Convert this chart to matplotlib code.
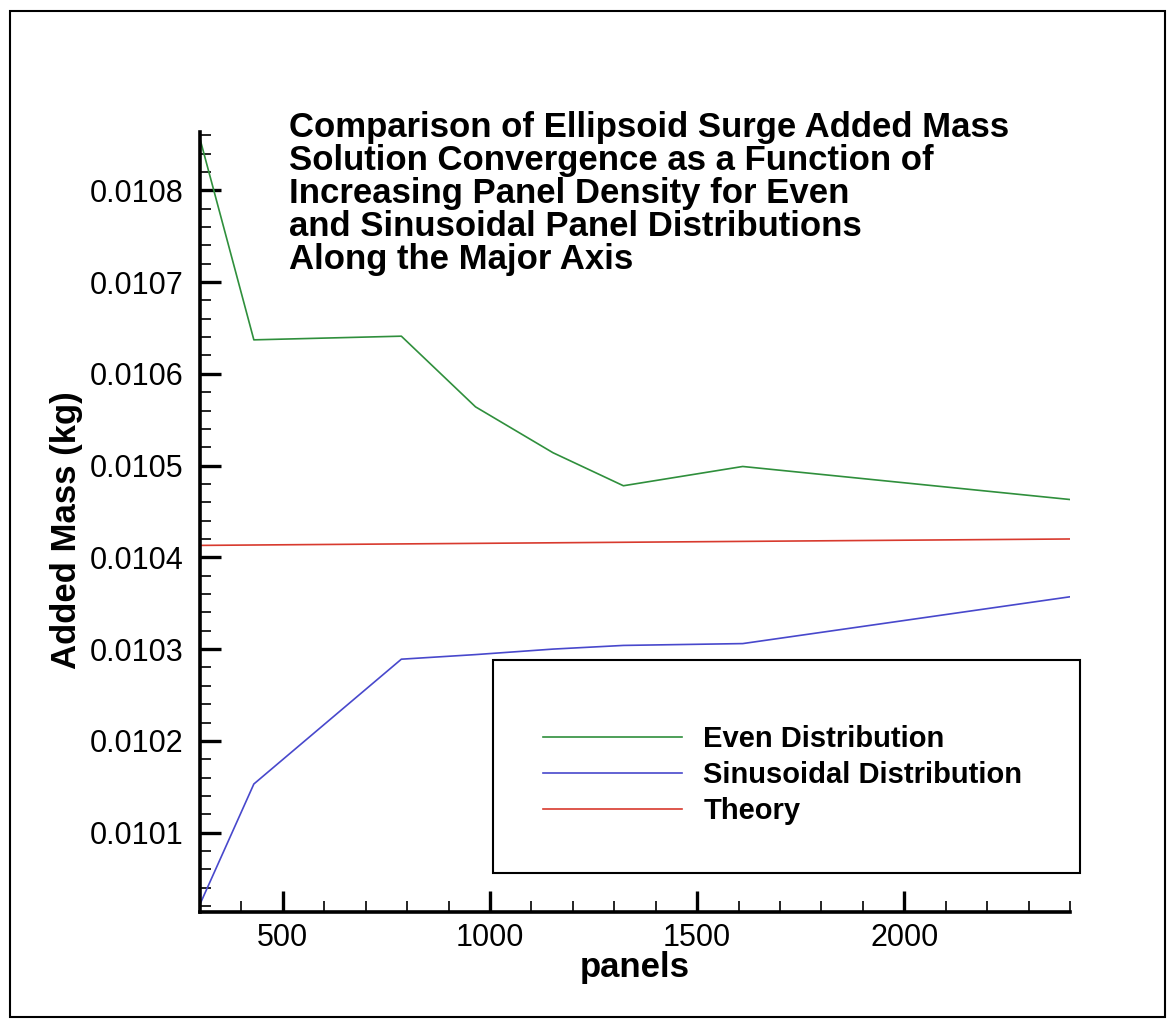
import matplotlib.pyplot as plt
from matplotlib.ticker import MultipleLocator, FormatStrFormatter
from matplotlib.patches import Rectangle

plt.rcParams['font.family'] = ['Liberation Sans', 'DejaVu Sans']

# --- Data ---
panels = [300, 430, 786, 965, 1152, 1322, 1610, 2400]
even = [0.010856, 0.010637, 0.010641, 0.010564, 0.010514, 0.010478, 0.010499, 0.010463]
sinusoidal = [0.010022, 0.010153, 0.010289, 0.010294, 0.010300, 0.010304, 0.010306, 0.010357]
theory_panels = [300, 2400]
theory = [0.010413, 0.010420]

labels = ['Even Distribution', 'Sinusoidal Distribution', 'Theory']
title_lines = ['Comparison of Ellipsoid Surge Added Mass',
               'Solution Convergence as a Function of',
               'Increasing Panel Density for Even',
               'and Sinusoidal Panel Distributions',
               'Along the Major Axis']

W, H = 1173, 1023
fig = plt.figure(figsize=(W / 100, H / 100), dpi=100)

# Outer frame round the whole picture
fig.patches.append(Rectangle((10 / W, 6 / H), 1155 / W, 1006 / H, transform=fig.transFigure,
                             fill=False, edgecolor='black', linewidth=1.5))

# Axes box in pixels: left 200, right 1070, top 132, bottom 912
ax = fig.add_axes([200 / W, 1 - 912 / H, 870 / W, 780 / H])

ax.plot(panels, even, '-', color='#2f8f3c', linewidth=1.2, label=labels[0])
ax.plot(panels, sinusoidal, '-', color='#4848cc', linewidth=1.2, label=labels[1])
ax.plot(theory_panels, theory, '-', color='#d83a2e', linewidth=1.2, label=labels[2])

ax.set_xlim(300, 2400)
ax.set_ylim(0.0100135, 0.0108635)

# Axis Stuff
for s in ['top', 'right']:
    ax.spines[s].set_visible(False)
for s in ['left', 'bottom']:
    ax.spines[s].set_linewidth(2.6)

ax.xaxis.set_major_locator(MultipleLocator(500))
ax.xaxis.set_minor_locator(MultipleLocator(100))
ax.yaxis.set_major_locator(MultipleLocator(0.0001))
ax.yaxis.set_minor_locator(MultipleLocator(0.00002))
ax.yaxis.set_major_formatter(FormatStrFormatter('%.4f'))

ax.tick_params(axis='both', which='major', direction='in', length=15, width=2.4, labelsize=22)
ax.tick_params(axis='both', which='minor', direction='in', length=8, width=1.2)
ax.tick_params(axis='y', which='major', pad=12)
ax.tick_params(axis='x', which='major', pad=8)

ax.set_xlabel('panels', fontsize=25, fontweight='bold')
ax.set_ylabel('Added Mass (kg)', fontsize=25, fontweight='bold')
ax.xaxis.set_label_coords(0.5, -0.05)
ax.yaxis.set_label_coords(-0.135, 0.49)

# Title block inside the plot
fig.text(289 / W, 1 - 111 / H, '\n'.join(title_lines), fontsize=25, fontweight='bold',
         ha='left', va='top', linespacing=1.0)

# Legend: box drawn separately, entries placed without frame
fig.patches.append(Rectangle((493 / W, 1 - 873 / H), 587 / W, 213 / H, transform=fig.transFigure,
                             fill=False, edgecolor='black', linewidth=1.5))
leg = ax.legend(loc='upper left', bbox_to_anchor=(543 / W, 1 - 725 / H),
                bbox_transform=fig.transFigure, borderaxespad=0, frameon=False,
                borderpad=0, handlelength=4.75, handletextpad=0.75, labelspacing=0.27,
                prop={'size': 21, 'weight': 'bold'})

fig.savefig('out.png', dpi=100)
